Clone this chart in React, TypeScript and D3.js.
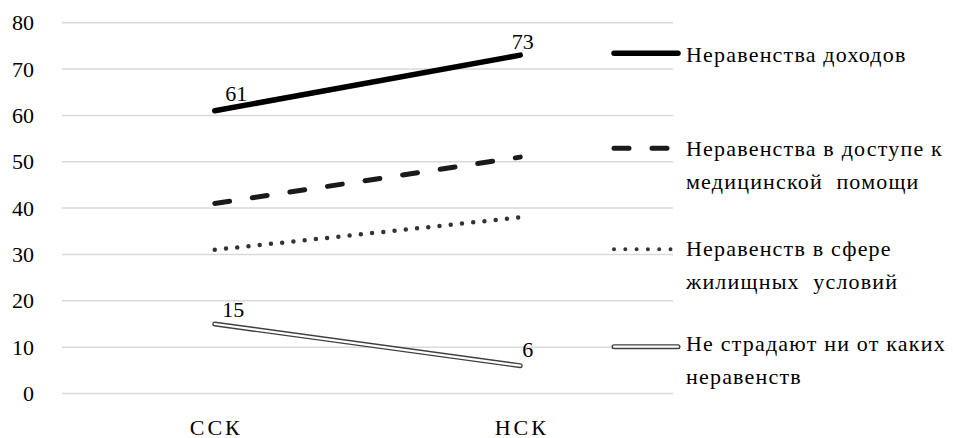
import React from "react";
import * as d3 from "d3";

const categories = ["ССК", "НСК"];
const seriesNames = [
  ["Неравенства доходов"],
  ["Неравенства в доступе к", "медицинской  помощи"],
  ["Неравенств в сфере", "жилищных  условий"],
  ["Не страдают ни от каких", "неравенств"],
];
const incomeValues = [61, 73];
const medicalValues = [41, 51];
const housingValues = [31, 38];
const noneValues = [15, 6];
const yTicks = [0, 10, 20, 30, 40, 50, 60, 70, 80];
const labeledSeries = [0, 3];

const W = 953;
const H = 438;
const FONT = "Liberation Serif";
const FS = 22;
const TEXT_LS = 1.2;

export default function App() {
  const left = 62;
  const right = 673;
  const top = 22.7;
  const bottom = 393.5;
  const x = d3.scaleBand<string>().domain(categories).range([left, right]);
  const y = d3.scaleLinear().domain([0, 80]).range([bottom, top]);
  const cx = (c: string) => (x(c) as number) + x.bandwidth() / 2;

  const all = [incomeValues, medicalValues, housingValues, noneValues];
  const line = d3
    .line<number>()
    .x((_, i) => cx(categories[i]))
    .y((v) => y(v));

  const styles = [
    [{ stroke: "#000", width: 5.5, dash: undefined as string | undefined }],
    [{ stroke: "#1a1a1a", width: 5, dash: "15 23" }],
    [{ stroke: "#333", width: 4.5, dash: "0 11.3" }],
    [
      { stroke: "#404040", width: 5, dash: undefined },
      { stroke: "#fff", width: 2.2, dash: undefined },
    ],
  ];

  const legendLineY = [53.3, 148.3, 249.3, 346.7];
  const legendTextY = [61.7, 156, 256, 351];
  const legendLineH = 33.3;
  const legendStyles = [
    styles[0],
    [{ stroke: "#1a1a1a", width: 5, dash: "15 23" }],
    [{ stroke: "#333", width: 4, dash: "0 11.3" }],
    styles[3],
  ];
  const legendX0 = 614;
  const legendX1 = 678;

  const labelOffsets = [
    [
      { dx: 21.5, dy: -9.3 },
      { dx: 2.5, dy: -6 },
    ],
    [],
    [],
    [
      { dx: 18.5, dy: -7 },
      { dx: 7.5, dy: -9 },
    ],
  ];

  return (
    <svg width={W} height={H} style={{ position: "absolute", left: 0, top: 0 }}>
      <rect x={0} y={0} width={W} height={H} fill="#fff" />
      {yTicks.map((t) => (
        <g key={t}>
          <line x1={left} x2={right} y1={y(t)} y2={y(t)} stroke="#d9d9d9" strokeWidth={1.5} />
          <text x={34} y={y(t) + 7.5} textAnchor="end" fill="#000" fontFamily={FONT} fontSize={FS}>
            {t}
          </text>
        </g>
      ))}
      {categories.map((c) => (
        <text
          key={c}
          x={cx(c) + 1.5}
          y={434.5}
          textAnchor="middle"
          fill="#000"
          fontFamily={FONT}
          fontSize={FS}
          letterSpacing={3}
        >
          {c}
        </text>
      ))}
      {all.map((vals, si) =>
        styles[si].map((s, k) => (
          <path
            key={si + "-" + k}
            d={line(vals) as string}
            fill="none"
            stroke={s.stroke}
            strokeWidth={s.width}
            strokeDasharray={s.dash}
            strokeLinecap="round"
            strokeLinejoin="round"
          />
        ))
      )}
      {labeledSeries.map((si) =>
        all[si].map((v, i) => (
          <text
            key={si + "-l-" + i}
            x={cx(categories[i]) + labelOffsets[si][i].dx}
            y={y(v) + labelOffsets[si][i].dy}
            textAnchor="middle"
            fill="#000"
            fontFamily={FONT}
            fontSize={FS}
          >
            {v}
          </text>
        ))
      )}
      {seriesNames.map((names, si) => (
        <g key={"leg" + si}>
          {legendStyles[si].map((s, k) => (
            <line
              key={k}
              x1={legendX0}
              x2={legendX1}
              y1={legendLineY[si]}
              y2={legendLineY[si]}
              stroke={s.stroke}
              strokeWidth={s.width}
              strokeDasharray={s.dash}
              strokeLinecap="round"
            />
          ))}
          {names.map((n, j) => (
            <text
              key={j}
              x={686}
              y={legendTextY[si] + j * legendLineH}
              fill="#000"
              fontFamily={FONT}
              fontSize={FS}
              letterSpacing={TEXT_LS}
              xmlSpace="preserve"
              style={{ whiteSpace: "pre" }}
            >
              {n}
            </text>
          ))}
        </g>
      ))}
    </svg>
  );
}
